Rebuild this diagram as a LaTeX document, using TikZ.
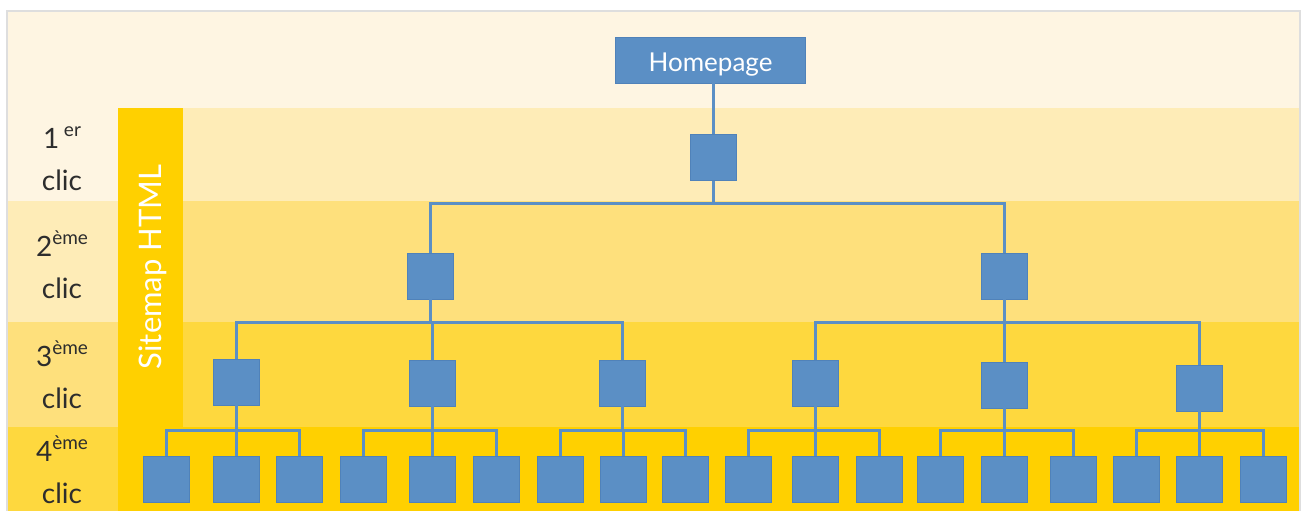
\documentclass[tikz,border=0pt]{standalone}
\usepackage{fontspec}
\setmainfont{Lato}
\usetikzlibrary{calc}
\definecolor{bandA}{RGB}{254,245,226}
\definecolor{bandB}{RGB}{254,236,183}
\definecolor{bandC}{RGB}{254,224,124}
\definecolor{bandD}{RGB}{254,216,62}
\definecolor{bandE}{RGB}{255,208,0}
\definecolor{pageblue}{RGB}{91,143,197}
\definecolor{pageedge}{RGB}{80,130,185}
\definecolor{labelgray}{RGB}{45,45,45}
\definecolor{frame}{RGB}{222,222,222}
\tikzset{
  page/.style={fill=pageblue, draw=pageedge, line width=0.6pt, minimum width=46pt, minimum height=46pt, inner sep=0pt},
  link/.style={draw=pageblue, line width=3pt},
  clic/.style={text=labelgray, align=center, font=\fontsize{28}{42}\selectfont},
}
\newcommand{\up}[1]{\raisebox{0.42em}{\fontsize{19}{19}\selectfont #1}}
\newcommand{\branch}[3]{\draw[link] (#1.south) -- (#1.south |- 0,#3) -| (#2.north);}
\begin{document}
\begin{tikzpicture}[x=1pt,y=-1pt]
\useasboundingbox (0,0) rectangle (1306,511);
% horizontal bands, label column one shade lighter
\fill[white] (0,0) rectangle (1306,511);
\fill[bandA] (7,11) rectangle (1300,108);
\fill[bandA] (7,108) rectangle (118,201);
\fill[bandB] (118,108) rectangle (1300,201);
\fill[bandB] (7,201) rectangle (118,322);
\fill[bandC] (118,201) rectangle (1300,322);
\fill[bandC] (7,322) rectangle (118,427);
\fill[bandD] (118,322) rectangle (1300,427);
\fill[bandD] (7,427) rectangle (118,511);
\fill[bandE] (118,427) rectangle (1300,511);
\draw[frame, line width=1.5pt] (7,515) -- (7,11) -- (1300,11) -- (1300,515);
% sitemap bar
\fill[bandE] (118,108) rectangle (183,511);
\node[rotate=90, text=white, font=\fontsize{31}{31}\selectfont] (sitemap) at (153,267) {Sitemap HTML};
% click labels
\node[clic] (c1) at (62,159) {1\,\up{er}\\clic};
\node[clic] (c2) at (62,265) {2\up{ème}\\clic};
\node[clic] (c3) at (62,375) {3\up{ème}\\clic};
\node[clic] (c4) at (62,470) {4\up{ème}\\clic};
% homepage and pages
\node[fill=pageblue, draw=pageedge, line width=0.6pt, minimum width=190pt, minimum height=46pt, text=white, font=\fontsize{26}{26}\selectfont, text height=23pt, text depth=0pt] (home) at (710.5,60) {Homepage};
\node[page] (p1) at (713,157.5) {};
\node[page] (a) at (430,276) {};
\node[page] (b) at (1004,276) {};
\node[page] (a1) at (236,382) {};
\node[page] (a2) at (432,383) {};
\node[page] (a3) at (622,383) {};
\node[page] (b1) at (815,383) {};
\node[page] (b2) at (1004,385) {};
\node[page] (b3) at (1199,388) {};
% fourth level
\foreach \n/\x in {a11/166,a12/236,a13/299,a21/363,a22/432,a23/496,a31/560,a32/623,a33/685,
                   b11/748,b12/815,b13/879,b21/940,b22/1004,b23/1073,b31/1136,b32/1199,b33/1263}
  \node[page] (\n) at (\x,479) {};
% connectors
\draw[link] (p1.north |- home.south) -- (p1.north);
\branch{p1}{a}{203}
\branch{p1}{b}{203}
\foreach \c in {a1,a2,a3} {\branch{a}{\c}{322}}
\foreach \c in {b1,b2,b3} {\branch{b}{\c}{322}}
\foreach \p in {a1,a2,a3,b1,b2,b3} {
  \foreach \k in {1,2,3} {\branch{\p}{\p\k}{430}}
}
\end{tikzpicture}
\end{document}
